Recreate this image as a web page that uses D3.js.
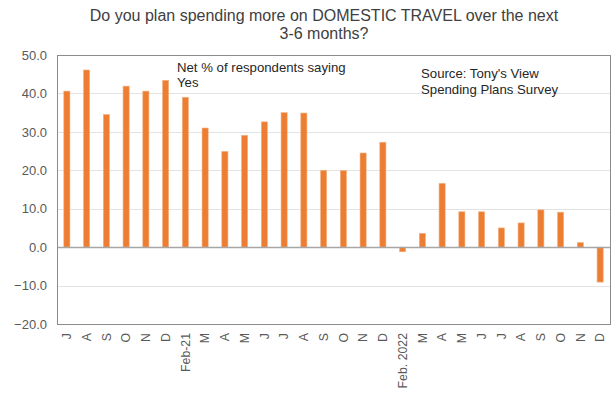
<!DOCTYPE html>
<html>
<head>
<meta charset="utf-8">
<script src="https://cdn.jsdelivr.net/npm/d3@7"></script>
<style>
  html, body { margin: 0; padding: 0; background: #fff; }
  svg { display: block; font-family: "Liberation Sans", Arial, sans-serif; }
</style>
</head>
<body>
<svg id="chart" width="613" height="396"></svg>
<script>
// Monthly labels along the x axis
const monthLabels = ["J", "A", "S", "O", "N", "D",
  "Feb-21", "M", "A", "M", "J", "J", "A", "S", "O", "N", "D",
  "Feb. 2022", "M", "A", "M", "J", "J", "A", "S", "O", "N", "D"];

// Net % of respondents saying Yes
const netYes = [40.6, 46.1, 34.5, 41.9, 40.6, 43.4,
  39.0, 31.0, 24.9, 29.1, 32.6, 35.0, 34.9, 20.0, 19.9, 24.5, 27.3,
  -1.2, 3.6, 16.6, 9.2, 9.2, 5.0, 6.3, 9.7, 9.1, 1.2, -9.1];

const yTicks = [50, 40, 30, 20, 10, 0, -10, -20];

const titleLines = ["Do you plan spending more on DOMESTIC TRAVEL over the next", "3-6 months?"];
const noteLines = ["Net % of respondents saying", "Yes"];
const sourceLines = ["Source: Tony's View", "Spending Plans Survey"];

const svg = d3.select("#chart");
const plot = { left: 57, right: 610, top: 55, bottom: 324 };

const x = d3.scaleBand()
  .domain(d3.range(monthLabels.length))
  .range([plot.left, plot.right])
  .paddingInner(0.69)
  .paddingOuter(0.345);

const y = d3.scaleLinear().domain([-20, 50]).range([plot.bottom, plot.top]);

// Gridlines
svg.append("g")
  .selectAll("line")
  .data(yTicks.filter(t => t !== 0 && t !== 50 && t !== -20))
  .join("line")
  .attr("x1", plot.left).attr("x2", plot.right)
  .attr("y1", d => Math.round(y(d)) + 0.5).attr("y2", d => Math.round(y(d)) + 0.5)
  .attr("stroke", "#e3e3e3").attr("stroke-width", 1);

// Bars
svg.append("g")
  .selectAll("rect")
  .data(netYes)
  .join("rect")
  .attr("x", (d, i) => x(i))
  .attr("width", x.bandwidth())
  .attr("y", d => y(Math.max(0, d)))
  .attr("height", d => Math.abs(y(d) - y(0)))
  .attr("fill", "#ED7D31")
  .attr("stroke", "#F4B183")
  .attr("stroke-width", 0.6);

// Zero line
svg.append("line")
  .attr("x1", plot.left).attr("x2", plot.right)
  .attr("y1", Math.round(y(0)) + 0.5).attr("y2", Math.round(y(0)) + 0.5)
  .attr("stroke", "#a6a6a6").attr("stroke-width", 1.5);

// Plot frame
svg.append("rect")
  .attr("x", plot.left + 0.5).attr("y", plot.top + 0.5)
  .attr("width", plot.right - plot.left).attr("height", plot.bottom - plot.top)
  .attr("fill", "none").attr("stroke", "#8c8c8c").attr("stroke-width", 1);

// Y axis labels
const yAxis = d3.axisLeft(y).tickValues(yTicks).tickFormat(d3.format(".1f")).tickSize(0).tickPadding(10);
svg.append("g")
  .attr("transform", `translate(${plot.left},0)`)
  .call(yAxis)
  .call(g => g.select(".domain").remove())
  .call(g => g.selectAll("text")
    .attr("fill", "#595959")
    .style("font-size", "13px")
    .style("font-family", "'Liberation Sans', Arial, sans-serif"));

// X axis labels, rotated
const xAxis = d3.axisBottom(x).tickFormat(i => monthLabels[i]).tickSize(0).tickPadding(0);
svg.append("g")
  .attr("transform", `translate(0,${plot.bottom})`)
  .call(xAxis)
  .call(g => g.select(".domain").remove())
  .call(g => g.selectAll("text")
    .attr("fill", "#595959")
    .style("font-size", "12.3px")
    .style("font-family", "'Liberation Sans', Arial, sans-serif")
    .attr("text-anchor", "end")
    .attr("dy", "0.35em")
    .attr("transform", "translate(0,9) rotate(-90)"));

// Title
svg.append("text")
  .attr("text-anchor", "middle")
  .attr("fill", "#404040")
  .style("font-size", "16px")
  .selectAll("tspan")
  .data(titleLines)
  .join("tspan")
  .attr("x", 324)
  .attr("y", (d, i) => 21 + i * 18)
  .text(d => d);

// Annotations
function textBlock(lines, x0, y0) {
  svg.append("text")
    .attr("fill", "#262626")
    .style("font-size", "13.2px")
    .selectAll("tspan")
    .data(lines)
    .join("tspan")
    .attr("x", x0)
    .attr("y", (d, i) => y0 + i * 15.5)
    .text(d => d);
}
textBlock(noteLines, 177, 71.5);
textBlock(sourceLines, 421, 78);
</script>
</body>
</html>
